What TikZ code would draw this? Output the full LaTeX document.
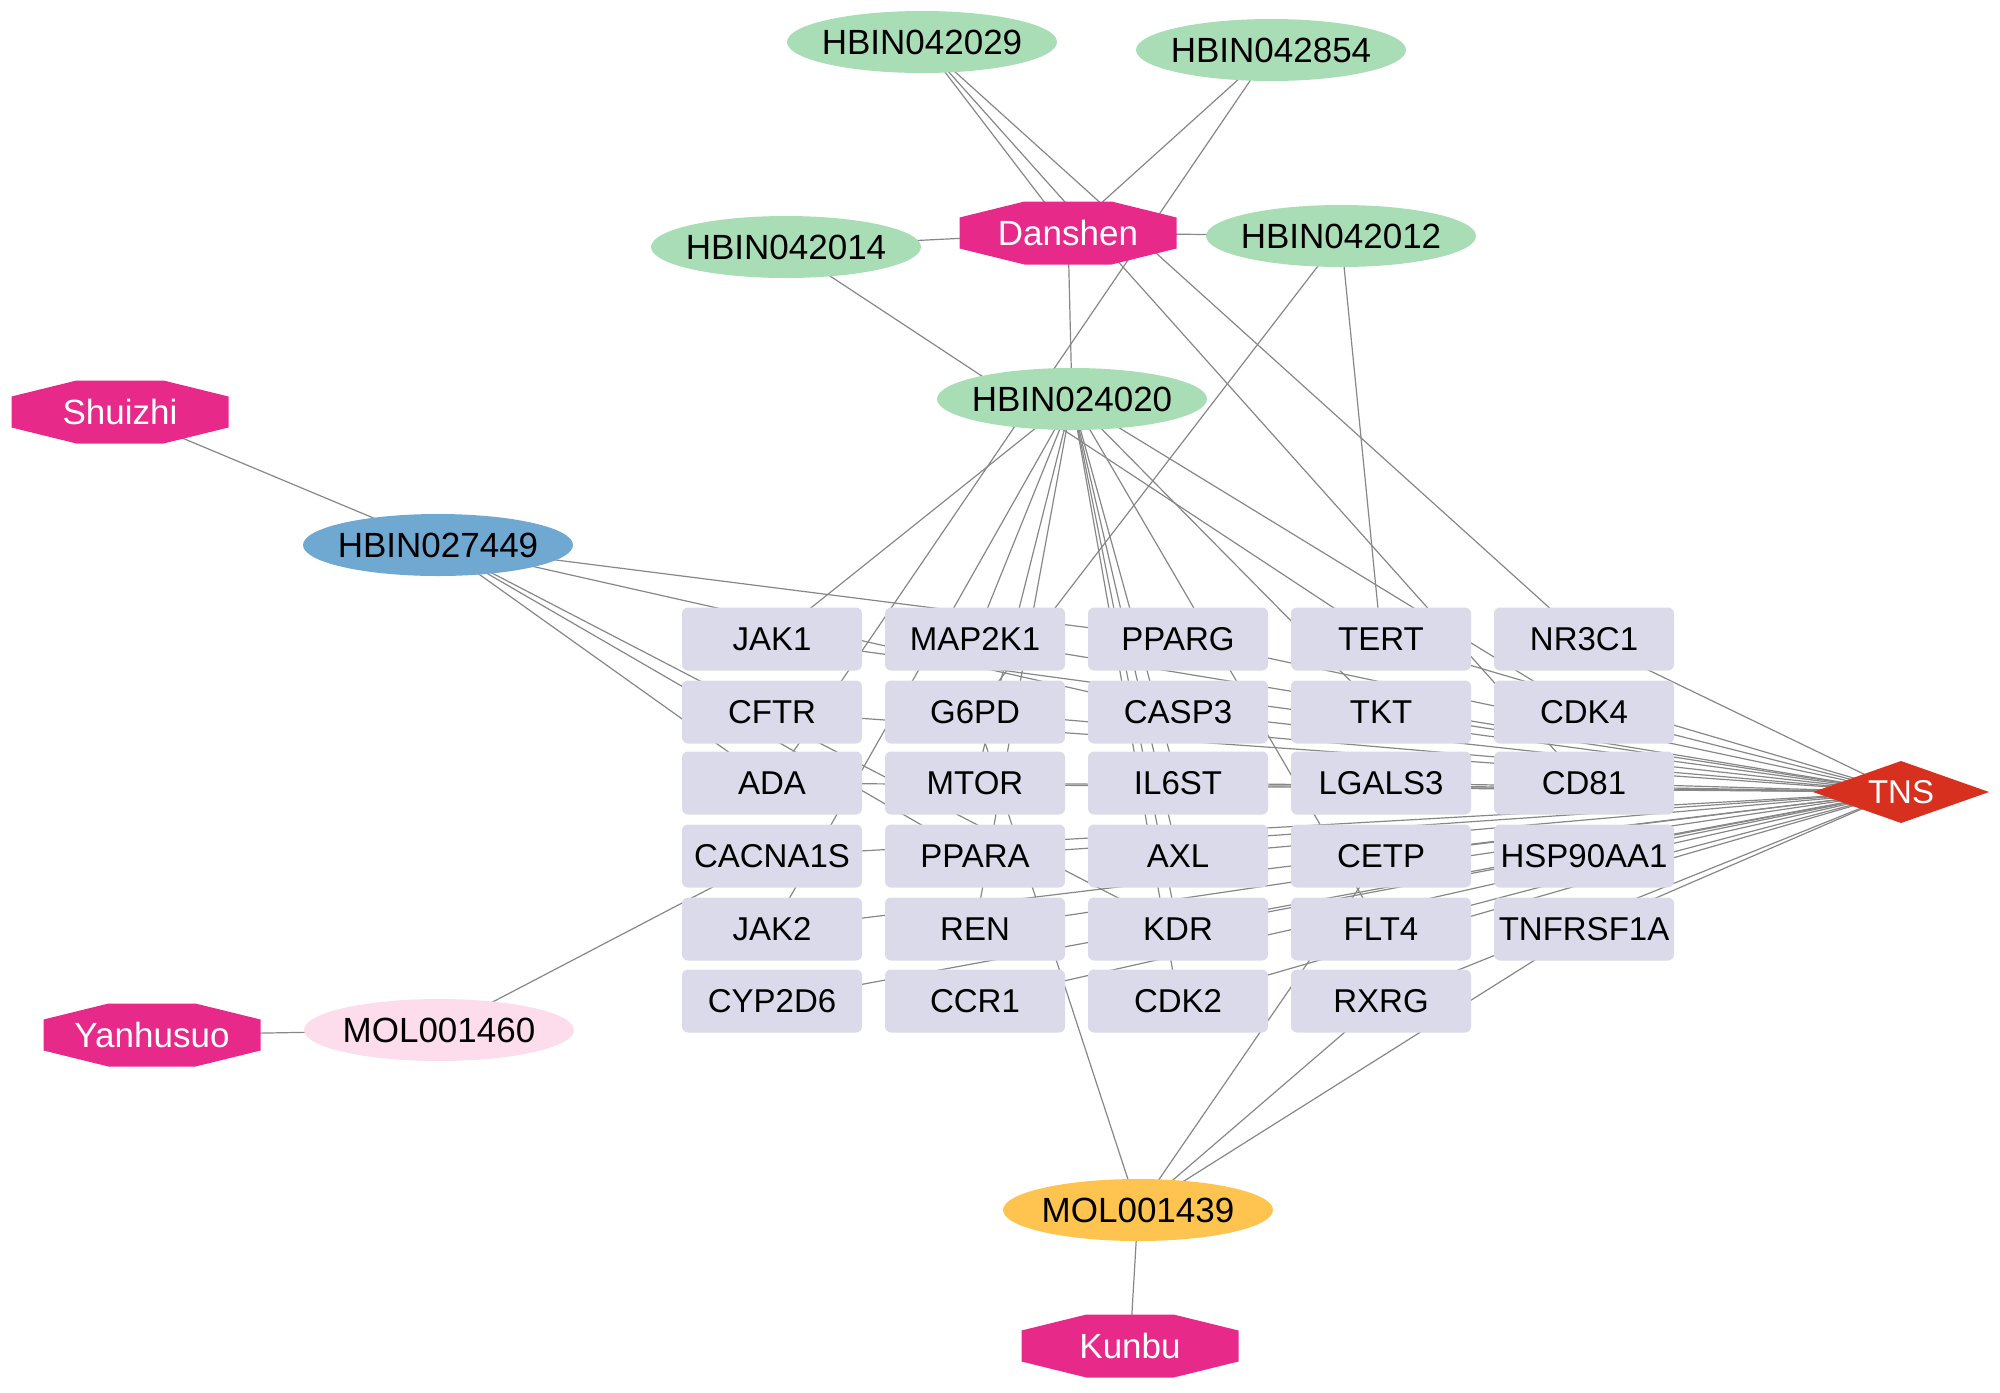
\documentclass[tikz,border=0pt]{standalone}
\usepackage{fontspec}
\setmainfont{Liberation Sans}
\pgfdeclarelayer{bg}
\pgfsetlayers{bg,main}
\definecolor{greenc}{RGB}{168,221,181}
\definecolor{bluec}{RGB}{111,168,209}
\definecolor{herbc}{RGB}{231,41,138}
\definecolor{pinkc}{RGB}{253,221,236}
\definecolor{orangec}{RGB}{254,196,79}
\definecolor{boxc}{RGB}{218,218,235}
\definecolor{tnsc}{RGB}{215,48,31}
\definecolor{linec}{RGB}{135,135,135}
\begin{document}
\begin{tikzpicture}[x=0.5pt,y=-0.5pt,
  comp/.style={rectangle, minimum width=135pt, minimum height=31pt, inner sep=0pt, font=\fontsize{17.5}{20}\selectfont,
    path picture={\fill[#1] (path picture bounding box.center) ellipse [x radius=67.5pt, y radius=15.5pt];}},
  tgt/.style={rectangle, rounded corners=3pt, fill=boxc, minimum width=90pt, minimum height=31.5pt, inner sep=0pt, font=\fontsize{16.5}{19}\selectfont},
  herb/.style={rectangle, minimum width=108.5pt, minimum height=31.5pt, inner sep=0pt, text=white, font=\fontsize{17.5}{20}\selectfont,
    path picture={\fill[herbc]
      ([xshift=32.5pt]path picture bounding box.north west) --
      ([xshift=-32.5pt]path picture bounding box.north east) --
      ([yshift=-8pt]path picture bounding box.north east) --
      ([yshift=8pt]path picture bounding box.south east) --
      ([xshift=-32.5pt]path picture bounding box.south east) --
      ([xshift=32.5pt]path picture bounding box.south west) --
      ([yshift=8pt]path picture bounding box.south west) --
      ([yshift=-8pt]path picture bounding box.north west) -- cycle;}},
  dis/.style={rectangle, minimum width=88pt, minimum height=31pt, inner sep=0pt, text=white, font=\fontsize{16.5}{19}\selectfont,
    path picture={\fill[tnsc]
      (path picture bounding box.north) -- (path picture bounding box.east) --
      (path picture bounding box.south) -- (path picture bounding box.west) -- cycle;}},
  lnk/.style={draw=linec, line width=0.6pt}]
\useasboundingbox (0,0) rectangle (2000,1392);
% herbs
\node[herb] (Danshen) at (1068,233) {Danshen};
\node[herb] (Shuizhi) at (120,412) {Shuizhi};
\node[herb] (Yanhusuo) at (152,1035) {Yanhusuo};
\node[herb] (Kunbu) at (1130,1346) {Kunbu};
% compounds
\node[comp=greenc] (HBIN042029) at (922,42) {HBIN042029};
\node[comp=greenc] (HBIN042854) at (1271,50) {HBIN042854};
\node[comp=greenc] (HBIN042014) at (786,247) {HBIN042014};
\node[comp=greenc] (HBIN042012) at (1341,236) {HBIN042012};
\node[comp=greenc] (HBIN024020) at (1072,399) {HBIN024020};
\node[comp=bluec] (HBIN027449) at (438,545) {HBIN027449};
\node[comp=pinkc] (MOL001460) at (439,1030) {MOL001460};
\node[comp=orangec] (MOL001439) at (1138,1210) {MOL001439};
% disease
\node[dis] (TNS) at (1901,792) {TNS};
% targets
\foreach \n/\x/\y in {JAK1/772/639, CFTR/772/712, ADA/772/783, CACNA1S/772/856, JAK2/772/929, CYP2D6/772/1001,
  MAP2K1/975/639, G6PD/975/712, MTOR/975/783, PPARA/975/856, REN/975/929, CCR1/975/1001,
  PPARG/1178/639, CASP3/1178/712, IL6ST/1178/783, AXL/1178/856, KDR/1178/929, CDK2/1178/1001,
  TERT/1381/639, TKT/1381/712, LGALS3/1381/783, CETP/1381/856, FLT4/1381/929, RXRG/1381/1001,
  NR3C1/1584/639, CDK4/1584/712, CD81/1584/783, HSP90AA1/1584/856, TNFRSF1A/1584/929}
  \node[tgt] (\n) at (\x,\y) {\n};
\begin{pgfonlayer}{bg}
\foreach \a/\b in {Danshen/HBIN042029, Danshen/HBIN042854, Danshen/HBIN042014, Danshen/HBIN042012, Danshen/HBIN024020,
  Shuizhi/HBIN027449, Yanhusuo/MOL001460, Kunbu/MOL001439,
  HBIN042029/CD81, HBIN042029/NR3C1,
  HBIN042854/ADA, HBIN042014/TERT,
  HBIN042012/G6PD, HBIN042012/TERT,
  HBIN024020/JAK1, HBIN024020/JAK2, HBIN024020/MAP2K1, HBIN024020/MTOR, HBIN024020/REN,
  HBIN024020/IL6ST, HBIN024020/AXL, HBIN024020/KDR, HBIN024020/CDK2, HBIN024020/FLT4,
  HBIN024020/TKT, HBIN024020/CDK4,
  HBIN027449/PPARG, HBIN027449/CASP3, HBIN027449/KDR, HBIN027449/PPARA, HBIN027449/ADA,
  MOL001460/CACNA1S,
  MOL001439/G6PD, MOL001439/CETP, MOL001439/RXRG, MOL001439/TNFRSF1A}
  \draw[lnk] (\a.center) -- (\b.center);
\foreach \b in {JAK1, CFTR, ADA, CACNA1S, JAK2, CYP2D6, MAP2K1, G6PD, MTOR, PPARA, REN, CCR1,
  PPARG, CASP3, IL6ST, AXL, KDR, CDK2, TERT, TKT, LGALS3, CETP, FLT4, RXRG,
  NR3C1, CDK4, CD81, HSP90AA1, TNFRSF1A}
  \draw[lnk] (TNS.center) -- (\b.center);
\end{pgfonlayer}
\end{tikzpicture}
\end{document}
